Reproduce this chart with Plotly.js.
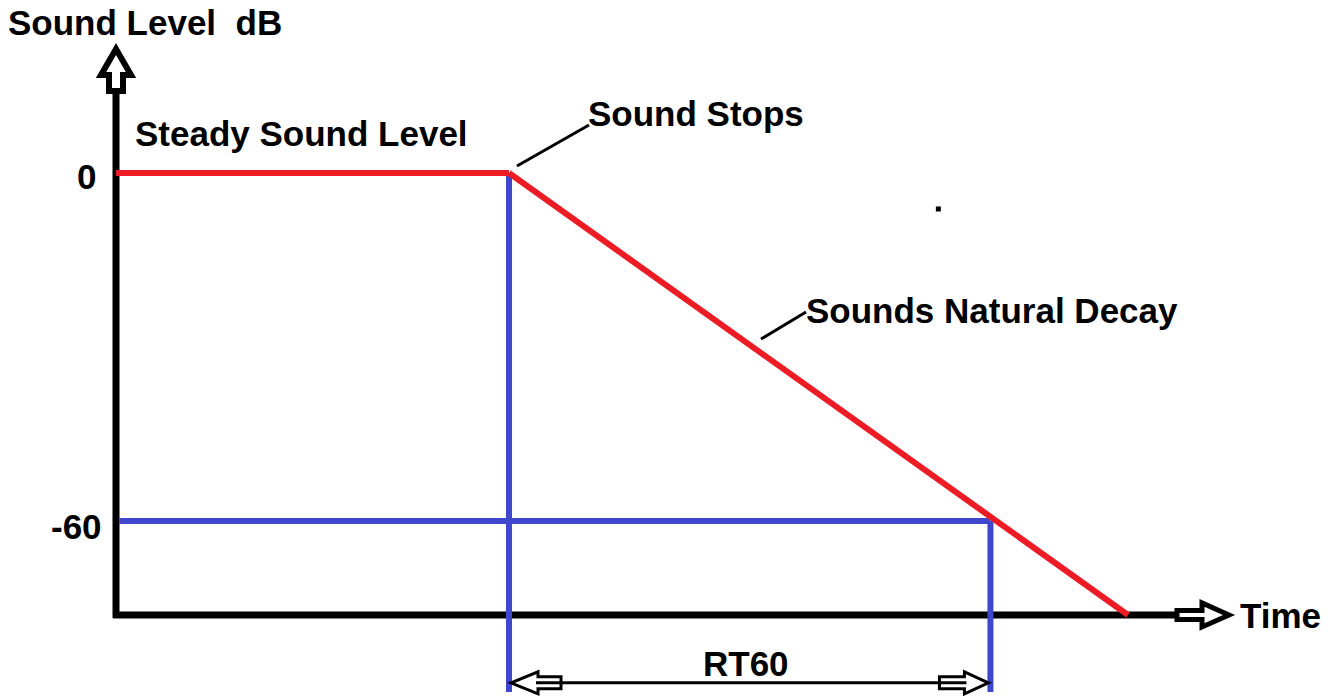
<!DOCTYPE html>
<html><head><meta charset="utf-8">
<script src="https://cdn.plot.ly/plotly-3.0.1.min.js"></script>
<style>html,body{margin:0;padding:0;background:#fff;overflow:hidden;} #chart{width:1338px;height:699px;}</style>
</head><body><div id="chart"></div>
<script>
// ---------- data (time in arbitrary units, level in dB) ----------
const steadyTime = [0, 4.0];
const steadyLevel = [0, 0];
const decayTime = [4.0, 10.3];
const decayLevel = [0, -76.2];
const stopTime = 4.0;
const rt60EndTime = 8.9;
const referenceLevel = 0;
const rt60Level = -60;
const axisFloorLevel = -76.2;
const markerBottomLevel = -89.5;
const rt60ArrowLevel = -87.9;
const yTickValues = [0, -60];
const yTickLabels = ['0', '-60'];
const strayDotTime = [8.37];
const strayDotLevel = [-6.2];

// ---------- geometry helpers ----------
const W = 1338, H = 699;
const xRange = [-1.1807, 12.4376];
const yRange = [-90.69, 29.83];
const pxPerX = W / (xRange[1] - xRange[0]);
const pxPerY = H / (yRange[1] - yRange[0]);
const dx = px => px / pxPerX;          // pixel length -> data length (x)
const dy = px => px / pxPerY;          // pixel length -> data length (y, up positive)
const X = px => xRange[0] + px / pxPerX; // absolute pixel -> data
const Y = py => yRange[1] - py / pxPerY;

const RED = '#ed1c24', BLUE = '#3f48cc', BLACK = '#000000';
const FONT = {family: 'Liberation Sans, Arial, sans-serif', size: 35, color: BLACK};

function blockArrow(tipX, tipY, dirX, dirY, totalLen, headLen, shaftHalf, headHalf) {
  const px = -dirY, py = dirX;
  const local = [[0,0],[-headLen,headHalf],[-headLen,shaftHalf],[-totalLen,shaftHalf],
                 [-totalLen,-shaftHalf],[-headLen,-shaftHalf],[-headLen,-headHalf]];
  const pts = local.map(([u,v]) => {
    const ox = u*dirX + v*px, oy = u*dirY + v*py;
    return [tipX + dx(ox), tipY + dy(oy)];
  });
  return 'M' + pts.map(p => p[0] + ',' + p[1]).join(' L') + ' Z';
}

// axis arrow tips
const xArrowTip = X(1229), xArrowLen = 52;
const yArrowTip = Y(49), yArrowLen = 42;

const traces = [
  // axes
  {x: [-dx(3), xArrowTip - dx(xArrowLen)], y: [axisFloorLevel, axisFloorLevel], mode: 'lines', line: {color: BLACK, width: 7}},
  {x: [0, 0], y: [axisFloorLevel - dy(3), yArrowTip - dy(yArrowLen)], mode: 'lines', line: {color: BLACK, width: 7}},
  // blue RT60 markers
  {x: [stopTime, stopTime], y: [referenceLevel, markerBottomLevel], mode: 'lines', line: {color: BLUE, width: 6}},
  {x: [rt60EndTime, rt60EndTime], y: [rt60Level, markerBottomLevel], mode: 'lines', line: {color: BLUE, width: 6}},
  {x: [dx(3), rt60EndTime], y: [rt60Level, rt60Level], mode: 'lines', line: {color: BLUE, width: 6}},
  // red sound level
  {x: steadyTime, y: steadyLevel, mode: 'lines', line: {color: RED, width: 6}},
  {x: decayTime, y: decayLevel, mode: 'lines', line: {color: RED, width: 6}},
  // stray dot
  {x: strayDotTime, y: strayDotLevel, mode: 'markers', marker: {symbol: 'square', size: 5, color: BLACK}}
];

const shapes = [
  {type: 'path', path: blockArrow(xArrowTip, axisFloorLevel, 1, 0, xArrowLen, 27, 4.5, 12), line: {color: BLACK, width: 5}, fillcolor: '#ffffff'},
  {type: 'path', path: blockArrow(0, yArrowTip, 0, 1, yArrowLen, 26, 7, 15), line: {color: BLACK, width: 6}, fillcolor: '#ffffff'},
  {type: 'path', path: blockArrow(stopTime + dx(2), rt60ArrowLevel, -1, 0, 50, 27, 6, 11), line: {color: BLACK, width: 3}, fillcolor: '#ffffff'},
  {type: 'path', path: blockArrow(rt60EndTime - dx(2), rt60ArrowLevel, 1, 0, 49, 24, 6, 11), line: {color: BLACK, width: 3}, fillcolor: '#ffffff'},
  {type: 'line', x0: stopTime + dx(27), x1: rt60EndTime - dx(24), y0: rt60ArrowLevel, y1: rt60ArrowLevel, line: {color: BLACK, width: 3}},
  // leader lines
  {type: 'line', x0: X(517), y0: Y(166), x1: X(589), y1: Y(125), line: {color: BLACK, width: 3}},
  {type: 'line', x0: X(761), y0: Y(339), x1: X(806), y1: Y(312), line: {color: BLACK, width: 3}}
];
shapes.forEach(s => { s.xref = 'x'; s.yref = 'y'; s.layer = 'above'; });

function label(text, x, y, xanchor) {
  return {text: '<b>' + text + '</b>', x: x, y: y, xref: 'x', yref: 'y', xanchor: xanchor, yanchor: 'middle',
          showarrow: false, font: FONT, borderpad: 0};
}
const annotations = [
  label('Sound Level\u00a0\u00a0dB', X(7), Y(22.5), 'left'),
  label('Steady Sound Level', X(134), Y(133.5), 'left'),
  label('Sound Stops', X(587), Y(113), 'left'),
  label('Sounds Natural Decay', X(805), Y(310), 'left'),
  label('Time', X(1239), Y(615), 'left'),
  label('RT60', (stopTime + rt60EndTime) / 2 - dx(4), Y(663.5), 'center'),
  label(yTickLabels[0], X(97), yTickValues[0] - dy(3), 'right'),
  label(yTickLabels[1], X(103), yTickValues[1] - dy(5), 'right')
];

const layout = {
  width: W, height: H,
  margin: {l: 0, r: 0, t: 0, b: 0, pad: 0},
  paper_bgcolor: '#ffffff', plot_bgcolor: '#ffffff',
  showlegend: false,
  xaxis: {range: xRange, visible: false, fixedrange: true},
  yaxis: {range: yRange, visible: false, fixedrange: true},
  shapes: shapes,
  annotations: annotations
};
Plotly.newPlot('chart', traces.map(t => Object.assign({hoverinfo: 'skip', cliponaxis: false}, t)), layout,
  {displayModeBar: false, staticPlot: true});
</script>
</body></html>
